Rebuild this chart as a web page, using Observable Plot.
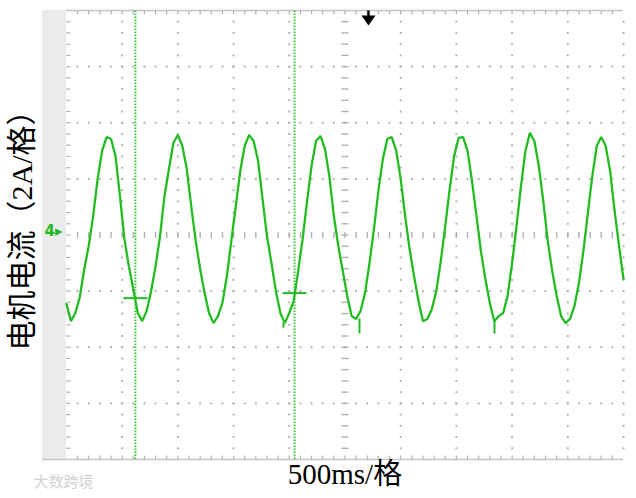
<!DOCTYPE html>
<html>
<head>
<meta charset="utf-8">
<script src="https://cdn.jsdelivr.net/npm/d3@7"></script>
<script src="https://cdn.jsdelivr.net/npm/@observablehq/plot@0.6"></script>
<style>
  html, body { margin: 0; padding: 0; background: #ffffff; }
  #chart svg { display: block; }
</style>
</head>
<body>
<div id="chart"></div>
<script>
// ---- Data ----
// Motor current samples (A), one every 40 ms over 10 divisions of 500 ms.
const sampleStepMs = 40;
const currentA = [
  -2.46, -3.07, -2.78, -2.21, -1.21, -0.39, 0.68, 2.00, 3.00, 3.49,
  3.42, 2.82, 1.39, -0.14, -1.11, -1.93, -2.78, -3.07, -2.71, -2.00,
  -1.11, -0.04, 1.39, 2.35, 3.28, 3.57, 3.17, 2.35, 1.03, -0.21,
  -1.21, -2.07, -2.78, -3.14, -2.89, -2.42, -1.46, -0.21, 1.03, 2.28,
  3.17, 3.57, 3.35, 2.64, 1.28, -0.04, -1.00, -2.00, -2.78, -3.14,
  -2.78, -2.35, -1.28, -0.14, 1.21, 2.46, 3.35, 3.53, 3.07, 2.10,
  0.68, -0.39, -1.28, -2.17, -2.89, -2.99, -2.71, -2.07, -1.00, 0.21,
  1.57, 2.71, 3.42, 3.49, 3.00, 2.00, 0.68, -0.50, -1.46, -2.35,
  -3.07, -2.99, -2.64, -2.00, -0.93, 0.32, 1.64, 2.82, 3.46, 3.49,
  3.00, 1.93, 0.68, -0.57, -1.57, -2.42, -3.07, -2.89, -2.78, -2.17,
  -1.00, 0.32, 1.75, 3.00, 3.64, 3.35, 2.46, 1.21, -0.21, -1.28,
  -2.17, -2.89, -3.14, -2.99, -2.53, -1.71, -0.57, 0.78, 2.10, 3.17,
  3.49, 3.17, 2.28, 0.86, -0.39, -1.57
];
// Short noise spikes on the trace (time ms, from A, to A)
const spikeTimes = [1948, 2630, 3842];
const spikeFromA = [-3.14, -2.99, -3.07];
const spikeToA = [-3.32, -3.53, -3.53];
// Cursors (time ms) and their level marks (A)
const cursorTimes = [619, 2047];
const cursorLevels = [-2.25, -2.07];
// Trigger position (ms)
const triggerTimes = [2711];
// Texts
const yLabel = "电机电流（2A/格）";
const xLabel = "500ms/格";
const channelLabel = "4▸";
const watermark = "大数跨境";

// ---- Scale / grid settings ----
const msPerDiv = 500, aPerDiv = 2;
const xDivs = 10, yDivs = 8;
const xMax = msPerDiv * xDivs;            // 5000 ms
const yHalf = aPerDiv * yDivs / 2;        // 8 A
const xMin = -215;                        // gray strip at the left of the screen

const waveform = currentA.map((a, i) => ({t: i * sampleStepMs, a}));
const spikes = spikeTimes.map((t, i) => ({t, a1: spikeFromA[i], a2: spikeToA[i]}));
const cursors = cursorTimes.map((t, i) => ({t, a: cursorLevels[i]}));

const minorX = d3.range(1, xDivs * 5).map(i => i * msPerDiv / 5);
const minorY = d3.range(-yDivs / 2 * 5 + 1, yDivs / 2 * 5).map(i => i * aPerDiv / 5);
const majorX = d3.range(1, xDivs + 1).map(i => i * msPerDiv).filter(v => v !== xMax / 2);
const majorY = d3.range(-yDivs / 2 + 1, yDivs / 2).map(i => i * aPerDiv).filter(v => v !== 0);

const hDots = majorY.flatMap(y => minorX.map(x => ({x, y})));
const vDots = majorX.flatMap(x => minorY.map(y => ({x, y})));

// custom symbols
const seg = (x0, y0, x1, y1) => ({draw(ctx) { ctx.moveTo(x0, y0); ctx.lineTo(x1, y1); }});
const arrow = {draw(ctx) {
  ctx.moveTo(-1.2, 0); ctx.lineTo(1.2, 0); ctx.lineTo(1.2, 5); ctx.lineTo(7, 5);
  ctx.lineTo(0, 15); ctx.lineTo(-7, 5); ctx.lineTo(-1.2, 5); ctx.closePath();
}};

const gridColor = "#b0b0b0";
const green = "#22bb22";
const cursorGreen = "#33cc33";

const chart = Plot.plot({
  width: 636,
  height: 498,
  marginLeft: 42,
  marginRight: 13,
  marginTop: 10,
  marginBottom: 39,
  x: {domain: [xMin, xMax], axis: null},
  y: {domain: [-yHalf, yHalf], axis: null},
  style: {background: "#ffffff", overflow: "visible"},
  marks: [
    // left gray strip
    Plot.rect([0], {x1: () => xMin, x2: () => 0, y1: () => -yHalf, y2: () => yHalf, fill: "#ebebeb"}),
    // borders
    Plot.ruleY([yHalf], {x1: () => 0, x2: () => xMax, stroke: "#c4c4c4", strokeWidth: 1.5}),
    Plot.ruleY([-yHalf], {x1: () => xMin, x2: () => xMax, stroke: "#c4c4c4", strokeWidth: 1.5}),
    // border ticks
    Plot.dot(minorX, {x: d => d, y: () => yHalf, symbol: seg(0, 0, 0, 4), stroke: gridColor, strokeWidth: 1.2, fill: "none"}),
    Plot.dot(minorX, {x: d => d, y: () => -yHalf, symbol: seg(0, -4, 0, 0), stroke: gridColor, strokeWidth: 1.2, fill: "none"}),
    Plot.dot(minorY, {x: () => 0, y: d => d, symbol: seg(0, 0, 4, 0), stroke: gridColor, strokeWidth: 1.2, fill: "none"}),
    // dotted major grid
    Plot.dot(hDots, {x: "x", y: "y", symbol: "square", r: 1.1, fill: gridColor, stroke: "none"}),
    Plot.dot(vDots, {x: "x", y: "y", symbol: "square", r: 1.1, fill: gridColor, stroke: "none"}),
    // center lines (dashed)
    Plot.dot(minorX, {x: d => d, y: () => 0, symbol: seg(0, -3, 0, 3), stroke: gridColor, strokeWidth: 1.4, fill: "none"}),
    Plot.dot(minorY, {x: () => xMax / 2, y: d => d, symbol: seg(-3.5, 0, 3.5, 0), stroke: gridColor, strokeWidth: 1.4, fill: "none"}),
    // cursors
    Plot.ruleX(cursorTimes, {y1: () => -yHalf, y2: () => yHalf, stroke: cursorGreen, strokeWidth: 2, strokeDasharray: "1.6,1.4"}),
    // waveform
    Plot.line(waveform, {x: "t", y: "a", curve: "linear", stroke: green, strokeWidth: 2.3, strokeLinejoin: "miter"}),
    Plot.ruleX(spikes, {x: "t", y1: "a1", y2: "a2", stroke: green, strokeWidth: 2}),
    // cursor level marks
    Plot.dot(cursors, {x: "t", y: "a", symbol: seg(-12, 0, 12, 0), stroke: green, strokeWidth: 2, fill: "none"}),
    // trigger arrow
    Plot.dot(triggerTimes, {x: d => d, y: () => yHalf, symbol: arrow, fill: "#000000", stroke: "none"}),
    // channel marker
    Plot.text([channelLabel], {frameAnchor: "left", y: () => 0, dx: 2, dy: -4, textAnchor: "start",
      fill: green, fontSize: 15, fontWeight: "bold", fontFamily: "DejaVu Sans"}),
    // axis labels
    Plot.text([yLabel], {frameAnchor: "left", dx: -20, dy: -12, rotate: -90, textAnchor: "middle", fontSize: 30,
      fill: "#000000", fontFamily: "'Liberation Serif', 'Noto Sans CJK SC', serif"}),
    Plot.text([xLabel], {x: () => xMax / 2, frameAnchor: "bottom", dy: 24, fontSize: 29,
      fill: "#000000", fontFamily: "'Liberation Serif', 'Noto Sans CJK SC', serif"}),
    // watermark
    Plot.text([watermark], {frameAnchor: "bottom-left", dx: -9, dy: 27, textAnchor: "start",
      fontSize: 15, fill: "#d2d2d2", fontFamily: "'Noto Sans CJK SC', sans-serif"})
  ]
});
document.getElementById("chart").appendChild(chart);
</script>
</body>
</html>
